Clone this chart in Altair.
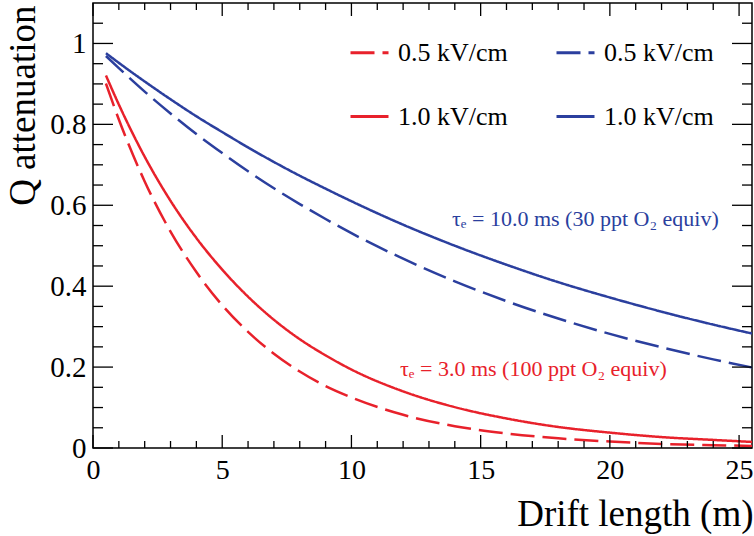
import altair as alt
import pandas as pd

# ---- data ----
x_pts = [0.5, 1, 2, 3, 4, 5, 6, 7, 8, 9, 10, 12, 14, 16, 18, 20, 22, 24, 25.5]
blue_10 = [0.976, 0.952, 0.906, 0.862, 0.820, 0.781, 0.743, 0.707, 0.673, 0.641,
           0.610, 0.552, 0.500, 0.453, 0.410, 0.372, 0.337, 0.305, 0.283]
blue_05 = [0.969, 0.939, 0.881, 0.827, 0.776, 0.729, 0.684, 0.642, 0.603, 0.566,
           0.531, 0.468, 0.412, 0.363, 0.320, 0.282, 0.249, 0.219, 0.199]
red_10 = [0.921, 0.849, 0.720, 0.611, 0.519, 0.441, 0.374, 0.317, 0.269, 0.229,
          0.194, 0.140, 0.101, 0.073, 0.052, 0.038, 0.027, 0.020, 0.015]
red_05 = [0.901, 0.812, 0.659, 0.535, 0.435, 0.353, 0.287, 0.233, 0.189, 0.153,
          0.125, 0.082, 0.054, 0.036, 0.024, 0.016, 0.010, 0.007, 0.005]

series_keys = ["r05", "r10", "b05", "b10"]
series_vals = [red_05, red_10, blue_05, blue_10]
x_major = [0, 5, 10, 15, 20, 25]
x_minor = [1, 2, 3, 4, 6, 7, 8, 9, 11, 12, 13, 14, 16, 17, 18, 19, 21, 22, 23, 24]
y_major = [0, 0.2, 0.4, 0.6, 0.8, 1.0]
y_minor = [0.05, 0.1, 0.15, 0.25, 0.3, 0.35, 0.45, 0.5, 0.55, 0.65, 0.7, 0.75,
           0.85, 0.9, 0.95, 1.05]
blue_note = "τₑ = 10.0 ms (30 ppt O₂ equiv)"
red_note = "τₑ = 3.0 ms (100 ppt O₂ equiv)"

RED = "#e8212b"
BLUE = "#2b3f9e"
colors = [RED, RED, BLUE, BLUE]
dashes = [[24, 8], [1, 0], [24, 8], [1, 0]]
FONT = "Liberation Serif"

rows = []
for key, vals in zip(series_keys, series_vals):
    for xv, yv in zip(x_pts, vals):
        rows.append({"x": xv, "y": yv, "series": key})
df = pd.DataFrame(rows)

W, H = 659, 445
xscale = alt.Scale(domain=[0, 25.5], nice=False, zero=False)
yscale = alt.Scale(domain=[0, 1.1], nice=False, zero=False)

legend = alt.Legend(
    title=None, orient="none", legendX=256, legendY=29, columns=2,
    symbolType="stroke", symbolSize=1444, symbolStrokeWidth=3,
    labelFont=FONT, labelFontSize=26, labelColor="black", labelOffset=8,
    columnPadding=42, rowPadding=30, padding=0, labelLimit=300,
    labelExpr="indexof(datum.label, '05') >= 0 ? '0.5 kV/cm' : '1.0 kV/cm'",
)

xaxis = alt.Axis(
    values=x_major, ticks=False, domain=False, grid=False,
    labelFont=FONT, labelFontSize=28, labelColor="black", labelPadding=8,
    labelFlush=False, labelOverlap=False,
    title="Drift length (m)", titleFont=FONT, titleFontSize=37,
    titleFontWeight="normal", titleColor="black",
    titleX=660, titleY=77, titleAlign="right", titleBaseline="alphabetic")
yaxis = alt.Axis(
    values=y_major, format="~g", ticks=False, domain=False, grid=False,
    labelFont=FONT, labelFontSize=29, labelColor="black", labelPadding=7,
    labelFlush=False, labelOverlap=False,
    title="Q attenuation", titleFont=FONT, titleFontSize=37,
    titleFontWeight="normal", titleColor="black", titleAngle=270,
    titleX=-59, titleY=2, titleAlign="right", titleBaseline="alphabetic")

lines = alt.Chart(df).mark_line(strokeWidth=2.5, clip=True, interpolate="monotone").encode(
    x=alt.X("x:Q", scale=xscale, axis=xaxis),
    y=alt.Y("y:Q", scale=yscale, axis=yaxis),
    color=alt.Color("series:N", scale=alt.Scale(domain=series_keys, range=colors), legend=legend),
    strokeDash=alt.StrokeDash("series:N", scale=alt.Scale(domain=series_keys, range=dashes), legend=legend),
)

def xticks(vals, length):
    d = pd.DataFrame({"x": vals})
    bottom = alt.Chart(d).mark_rule(color="black", strokeWidth=1.3).encode(
        x=alt.X("x:Q", scale=xscale, axis=xaxis), y=alt.value(H), y2=alt.value(H - length))
    top = alt.Chart(d).mark_rule(color="black", strokeWidth=1.3).encode(
        x=alt.X("x:Q", scale=xscale, axis=xaxis), y=alt.value(0), y2=alt.value(length))
    return [bottom, top]

def yticks(vals, length):
    d = pd.DataFrame({"y": vals})
    left = alt.Chart(d).mark_rule(color="black", strokeWidth=1.3).encode(
        y=alt.Y("y:Q", scale=yscale, axis=yaxis), x=alt.value(0), x2=alt.value(length))
    right = alt.Chart(d).mark_rule(color="black", strokeWidth=1.3).encode(
        y=alt.Y("y:Q", scale=yscale, axis=yaxis), x=alt.value(W), x2=alt.value(W - length))
    return [left, right]

tick_layers = xticks(x_major, 13) + xticks(x_minor, 7) + yticks(y_major, 20) + yticks(y_minor, 10)

blue_txt = alt.Chart(pd.DataFrame({"t": [blue_note]})).mark_text(
    font=FONT, fontSize=22, color=BLUE, align="left", baseline="alphabetic").encode(
    text="t:N", x=alt.value(359), y=alt.value(223))
red_txt = alt.Chart(pd.DataFrame({"t": [red_note]})).mark_text(
    font=FONT, fontSize=22, color=RED, align="left", baseline="alphabetic").encode(
    text="t:N", x=alt.value(307), y=alt.value(373))

chart = alt.layer(lines, *tick_layers, blue_txt, red_txt).properties(
    width=W, height=H, autosize="none",
    padding={"left": 93, "top": 3, "right": 2, "bottom": 88},
    background="white",
).configure_view(stroke="black", strokeWidth=1.5)

chart.save("out.html", embed_options={"renderer": "svg", "actions": False})
